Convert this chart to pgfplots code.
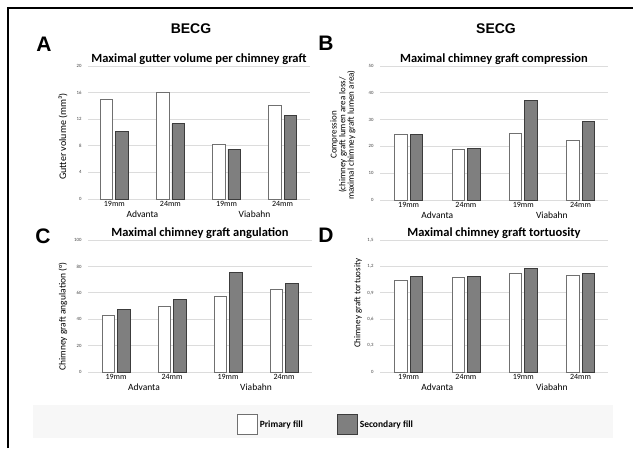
\documentclass[border=0pt]{standalone}
\usepackage{fontspec}
\setmainfont{Carlito}
\newfontfamily\arial{Liberation Sans}
\usepackage{pgfplots}
\pgfplotsset{compat=1.18}
\definecolor{barg}{HTML}{7F7F7F}
\definecolor{bardk}{HTML}{3C3C3C}
\definecolor{barw}{HTML}{707070}
\definecolor{gridc}{HTML}{DCDCDC}
\tikzset{grp/.style={font=\fontsize{9.5}{10}\selectfont}}
\pgfplotsset{
  yl/.style n args={3}{every axis y label/.style={at={(axis description cs:0,#2)}, xshift=#1, rotate=90, anchor=center, font=\fontsize{#3}{8.6}\selectfont, align=center}},
  panel/.style={
    scale only axis,
    clip=false,
    ybar=3pt, bar width=12.5pt,
    ymin=0,
    xtick={0,1,2,3},
    xticklabels={19mm,24mm,19mm,24mm},
    axis line style={draw=none},
    major tick length=0pt,
    ymajorgrids, grid style={gridc, line width=0.7pt},
    /pgf/number format/assume math mode=true,
    yticklabel style={font=\fontsize{4.8}{5}\selectfont, text=black!75, xshift=-3pt},
    xticklabel style={font=\fontsize{8}{8}\selectfont, yshift=1.5pt},
    title style={at={(axis description cs:0.5,1)}, anchor=center, yshift=1pt, font=\bfseries\fontsize{12.5}{13}\selectfont},
  },
  prim/.style={fill=white, draw=barw, line width=0.8pt},
  sec/.style={fill=barg, draw=bardk, line width=0.8pt},
}
\begin{document}
\begin{tikzpicture}
\useasboundingbox (0pt,0pt) rectangle (633pt,448pt);
\fill[black!3] (33pt,10pt) rectangle (613pt,43pt);
\draw[line width=1.4pt] (8pt,0pt) -- (8pt,440pt) -- (634pt,440pt);
\node[font=\arial\bfseries\fontsize{14}{14}\selectfont] at (191pt,419pt) {BECG};
\node[font=\arial\bfseries\fontsize{14}{14}\selectfont] at (496pt,419pt) {SECG};
\node[font=\arial\bfseries\fontsize{21}{21}\selectfont] at (44pt,404pt) {A};
\node[font=\arial\bfseries\fontsize{21}{21}\selectfont] at (326pt,405pt) {B};
\node[font=\arial\bfseries\fontsize{21}{21}\selectfont] at (43pt,212pt) {C};
\node[font=\arial\bfseries\fontsize{21}{21}\selectfont] at (326pt,213pt) {D};

% Panel A
\begin{axis}[panel, at={(88pt,249pt)}, anchor=south west, width=222pt, height=133pt,
  xmin=-0.47, xmax=3.49, ymax=20, ytick={0,4,8,12,16,20},
  title={Maximal gutter volume per chimney graft},
  ylabel={Gutter volume (mm³)}, yl={-25pt}{0.47}{10}]
\addplot[prim] coordinates {(0,15.0) (1,16.1) (2,8.2) (3,14.1)};
\addplot[sec] coordinates {(0,10.2) (1,11.3) (2,7.5) (3,12.5)};
\node[grp] at (axis cs:0.5,0) [yshift=-15.5pt] {Advanta};
\node[grp] at (axis cs:2.5,0) [yshift=-15.5pt] {Viabahn};
\end{axis}

% Panel B
\begin{axis}[panel, at={(380pt,248pt)}, anchor=south west, width=228pt, height=134pt,
  xmin=-0.5, xmax=3.48, ymax=50, ytick={0,10,20,30,40,50},
  title={Maximal chimney graft compression},
  ylabel={Compression\\(chimney graft lumen area loss/\\maximal chimney graft lumen area)},
  yl={-37pt}{0.485}{9}]
\addplot[prim] coordinates {(0,24.6) (1,18.9) (2,25.0) (3,22.2)};
\addplot[sec] coordinates {(0,24.4) (1,19.2) (2,37.1) (3,29.4)};
\node[grp] at (axis cs:0.5,0) [yshift=-15.5pt] {Advanta};
\node[grp] at (axis cs:2.5,0) [yshift=-15.5pt] {Viabahn};
\end{axis}

% Panel C
\begin{axis}[panel, at={(88pt,76pt)}, anchor=south west, width=224pt, height=132pt,
  xmin=-0.5, xmax=3.5, ymax=100, ytick={0,20,40,60,80,100},
  title={Maximal chimney graft angulation},
  ylabel={Chimney graft angulation (°)}, yl={-25pt}{0.42}{9.5},
  legend style={at={(axis description cs:1.0625,-0.40)}, anchor=center, draw=none, fill=none,
    font=\bfseries\fontsize{9.5}{10}\selectfont, legend columns=2,
    /tikz/every even column/.append style={column sep=32pt}}]
\addplot[prim, legend image code/.code={\draw[fill=white, draw=barw, line width=0.8pt] (0pt,-10pt) rectangle (20pt,10pt);}] coordinates {(0,42.8) (1,49.6) (2,57.5) (3,62.5)};
\addplot[sec, legend image code/.code={\draw[fill=barg, draw=bardk, line width=0.8pt] (0pt,-10pt) rectangle (20pt,10pt);}] coordinates {(0,47.6) (1,55.2) (2,75.4) (3,67.1)};
\legend{Primary fill, Secondary fill}
\node[grp] at (axis cs:0.5,0) [yshift=-15.5pt] {Advanta};
\node[grp] at (axis cs:2.5,0) [yshift=-15.5pt] {Viabahn};
\end{axis}

% Panel D
\begin{axis}[panel, at={(380pt,76pt)}, anchor=south west, width=228pt, height=132pt,
  xmin=-0.5, xmax=3.48, ymax=1.5, ytick={0,0.3,0.6,0.9,1.2,1.5},
  yticklabel style={/pgf/number format/.cd, use comma, fixed, precision=1},
  title={Maximal chimney graft tortuosity},
  ylabel={Chimney graft tortuosity}, yl={-22pt}{0.52}{9}]
\addplot[prim] coordinates {(0,1.037) (1,1.071) (2,1.12) (3,1.094)};
\addplot[sec] coordinates {(0,1.086) (1,1.082) (2,1.18) (3,1.12)};
\node[grp] at (axis cs:0.5,0) [yshift=-15.5pt] {Advanta};
\node[grp] at (axis cs:2.5,0) [yshift=-15.5pt] {Viabahn};
\end{axis}
\end{tikzpicture}
\end{document}
